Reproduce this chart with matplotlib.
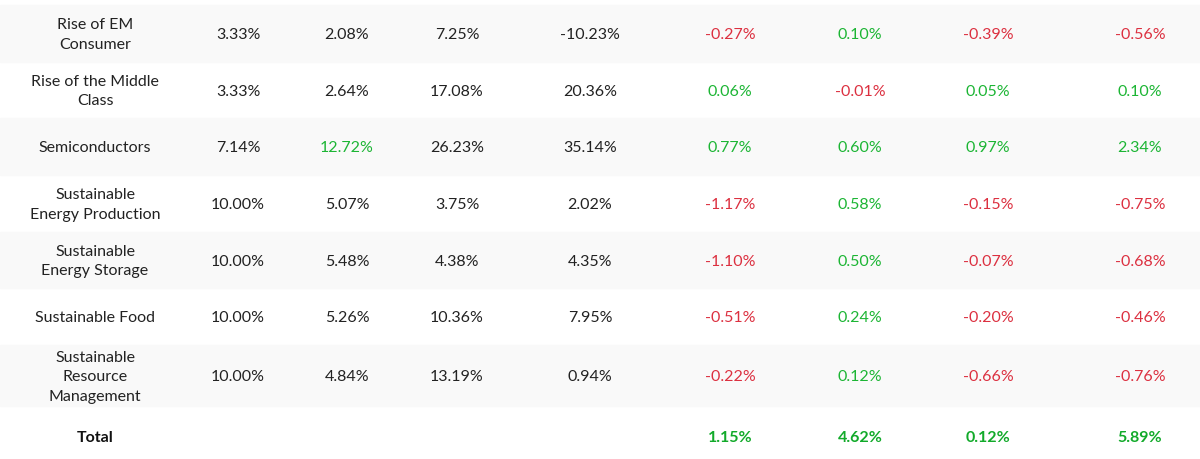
import matplotlib.pyplot as plt

plt.rcParams['font.family'] = ['Lato', 'DejaVu Sans']

# table data
names = ['Rise of EM\nConsumer', 'Rise of the Middle\nClass', 'Semiconductors',
         'Sustainable\nEnergy Production', 'Sustainable\nEnergy Storage',
         'Sustainable Food', 'Sustainable\nResource\nManagement']
weight = [3.33, 3.33, 7.14, 10.00, 10.00, 10.00, 10.00]
col3 = [2.08, 2.64, 12.72, 5.07, 5.48, 5.26, 4.84]
col4 = [7.25, 17.08, 26.23, 3.75, 4.38, 10.36, 13.19]
col5 = [-10.23, 20.36, 35.14, 2.02, 4.35, 7.95, 0.94]
col6 = [-0.27, 0.06, 0.77, -1.17, -1.10, -0.51, -0.22]
col7 = [0.10, -0.01, 0.60, 0.58, 0.50, 0.24, 0.12]
col8 = [-0.39, 0.05, 0.97, -0.15, -0.07, -0.20, -0.66]
col9 = [-0.56, 0.10, 2.34, -0.75, -0.68, -0.46, -0.76]
totals = [1.15, 4.62, 0.12, 5.89]

GREEN = '#1cb534'
RED = '#dc3040'
BLACK = '#222222'
FS = 11.5

xpos = [95, 238, 347, 457, 590, 730, 860, 988, 1140]
edges = [5, 62, 118, 175, 232, 288, 345, 406, 459]

fig = plt.figure(figsize=(12, 4.59), dpi=100)
ax = fig.add_axes([0, 0, 1, 1])
ax.set_xlim(0, 1200)
ax.set_ylim(459, 0)
ax.axis('off')


def signed(v):
    return GREEN if v > 0 else RED


for i in range(len(names)):
    top, bot = edges[i], edges[i + 1]
    if i % 2 == 0:
        ax.axhspan(top, bot, color='#f9f9f9', zorder=0)
    yc = (top + bot) / 2 + 1.5
    ax.text(xpos[0], yc, names[i], ha='center', va='center', fontsize=FS,
            color=BLACK, linespacing=1.5)
    ax.text(xpos[1], yc, f'{weight[i]:.2f}%', ha='center', va='center', fontsize=FS, color=BLACK)
    c3 = GREEN if col3[i] > 10 else BLACK
    ax.text(xpos[2], yc, f'{col3[i]:.2f}%', ha='center', va='center', fontsize=FS, color=c3)
    ax.text(xpos[3], yc, f'{col4[i]:.2f}%', ha='center', va='center', fontsize=FS, color=BLACK)
    ax.text(xpos[4], yc, f'{col5[i]:.2f}%', ha='center', va='center', fontsize=FS, color=BLACK)
    for j, col in enumerate([col6, col7, col8, col9]):
        ax.text(xpos[5 + j], yc, f'{col[i]:.2f}%', ha='center', va='center',
                fontsize=FS, color=signed(col[i]))

yc = 438
ax.text(xpos[0], yc, 'Total', ha='center', va='center', fontsize=FS,
        fontweight='bold', color='#111111')
for j, v in enumerate(totals):
    ax.text(xpos[5 + j], yc, f'{v:.2f}%', ha='center', va='center', fontsize=FS,
            fontweight='bold', color='#12aa2a')

fig.savefig('out.png', dpi=100)
